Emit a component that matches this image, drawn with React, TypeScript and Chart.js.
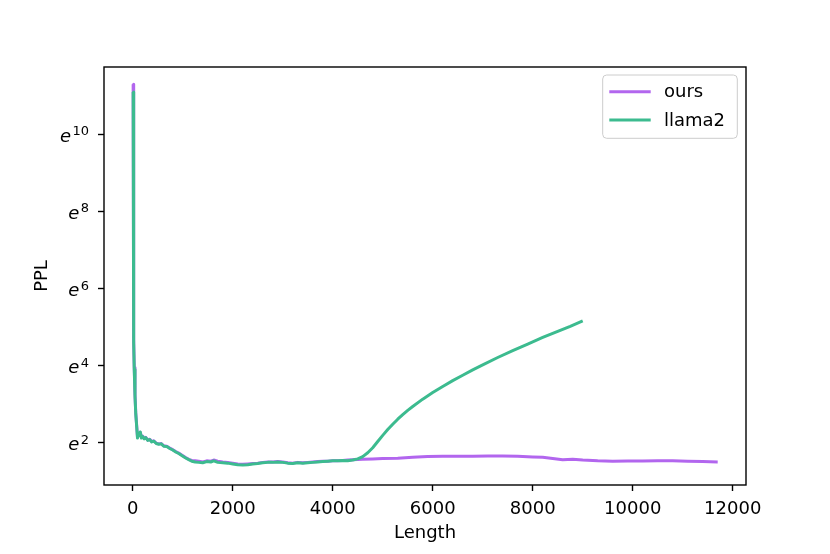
import { useEffect, useRef } from 'react';
import { Chart, registerables } from 'chart.js';

Chart.register(...registerables);

// Length (tokens) and ln(PPL)
const oursLength = [8, 15, 22, 30, 45, 60, 80, 95, 110, 130, 150, 175, 200, 230, 260, 300, 340, 380, 420, 470, 520, 570, 620, 680, 740, 800, 860, 920, 980, 1050, 1120, 1180, 1250, 1320, 1400, 1480, 1560, 1620, 1700, 1800, 1900, 2000, 2100, 2200, 2300, 2400, 2500, 2600, 2700, 2800, 2900, 3000, 3100, 3200, 3300, 3400, 3500, 3600, 3700, 3800, 3900, 4000, 4100, 4200, 4300, 4400, 4600, 4800, 5000, 5300, 5600, 5900, 6200, 6500, 6800, 7100, 7400, 7700, 8000, 8200, 8400, 8600, 8800, 9000, 9300, 9600, 9900, 10200, 10500, 10800, 11100, 11400, 11700];
const oursLogPPL = [11.3, 6.3, 4.7, 3.95, 3.25, 2.78, 2.42, 2.14, 2.24, 2.2, 2.27, 2.14, 2.17, 2.11, 2.14, 2.07, 2.09, 2.03, 2.05, 1.99, 1.97, 1.98, 1.92, 1.91, 1.86, 1.82, 1.77, 1.73, 1.68, 1.62, 1.57, 1.54, 1.53, 1.52, 1.5, 1.53, 1.52, 1.55, 1.52, 1.5, 1.49, 1.47, 1.45, 1.44, 1.45, 1.46, 1.47, 1.49, 1.5, 1.5, 1.51, 1.5, 1.48, 1.47, 1.49, 1.48, 1.49, 1.5, 1.51, 1.52, 1.52, 1.53, 1.535, 1.54, 1.55, 1.555, 1.57, 1.58, 1.59, 1.6, 1.62, 1.64, 1.65, 1.65, 1.65, 1.655, 1.655, 1.65, 1.63, 1.62, 1.59, 1.56, 1.57, 1.55, 1.53, 1.52, 1.525, 1.525, 1.53, 1.53, 1.52, 1.51, 1.5];

const llamaLength = [8, 15, 22, 30, 45, 60, 80, 95, 110, 130, 150, 175, 200, 230, 260, 300, 340, 380, 420, 470, 520, 570, 620, 680, 740, 800, 860, 920, 980, 1050, 1120, 1180, 1250, 1320, 1400, 1480, 1560, 1620, 1700, 1800, 1900, 2000, 2100, 2200, 2300, 2400, 2500, 2600, 2700, 2800, 2900, 3000, 3100, 3200, 3300, 3400, 3500, 3600, 3700, 3800, 3900, 4000, 4100, 4200, 4300, 4400, 4500, 4600, 4700, 4800, 4900, 5000, 5100, 5200, 5300, 5400, 5500, 5600, 5800, 6000, 6200, 6400, 6600, 6800, 7000, 7300, 7600, 7900, 8200, 8500, 8750, 9000];
const llamaLogPPL = [11.1, 6.2, 4.6, 3.9, 3.2, 2.75, 2.4, 2.12, 2.25, 2.18, 2.28, 2.12, 2.16, 2.1, 2.13, 2.06, 2.08, 2.02, 2.04, 1.98, 1.96, 1.97, 1.91, 1.9, 1.85, 1.81, 1.76, 1.72, 1.67, 1.61, 1.56, 1.52, 1.5, 1.49, 1.48, 1.51, 1.5, 1.53, 1.49, 1.48, 1.47, 1.45, 1.43, 1.42, 1.43, 1.45, 1.46, 1.48, 1.49, 1.49, 1.5, 1.49, 1.47, 1.46, 1.48, 1.47, 1.48, 1.49, 1.5, 1.51, 1.52, 1.53, 1.535, 1.54, 1.53, 1.55, 1.58, 1.64, 1.74, 1.87, 2.03, 2.19, 2.34, 2.48, 2.61, 2.73, 2.84, 2.94, 3.13, 3.3, 3.46, 3.61, 3.75, 3.89, 4.02, 4.21, 4.39, 4.56, 4.73, 4.89, 5.02, 5.16];

const xTicks = [0, 2000, 4000, 6000, 8000, 10000, 12000];
const yTickExps = [2, 4, 6, 8, 10];
const seriesNames = ['ours', 'llama2'];
const seriesColors = ['#b266ee', '#3cbb8f'];
const xTitle = 'Length';
const yTitle = 'PPL';

const FONT = "'DejaVu Sans', sans-serif";

export default function App() {
  const ref = useRef<HTMLCanvasElement>(null);

  useEffect(() => {
    const canvas = ref.current;
    if (!canvas) return;

    const overlay = {
      id: 'overlay',
      afterDraw(chart: any) {
        const c = chart.ctx as CanvasRenderingContext2D;
        const a = chart.chartArea;
        const ys = chart.scales.y;
        c.save();
        // frame
        c.strokeStyle = '#000';
        c.lineWidth = 1.4;
        c.strokeRect(a.left, a.top, a.right - a.left, a.bottom - a.top);

        // y tick labels e^n
        c.fillStyle = '#000';
        c.textAlign = 'left';
        c.textBaseline = 'alphabetic';
        for (const e of yTickExps) {
          const py = ys.getPixelForValue(e);
          const sup = String(e);
          c.font = `13px ${FONT}`;
          const sw = c.measureText(sup).width;
          c.font = `italic 18px ${FONT}`;
          const ew = c.measureText('e').width;
          const right = a.left - 15;
          c.fillText('e', right - sw - 1.5 - ew, py + 7.4);
          c.font = `13px ${FONT}`;
          c.fillText(sup, right - sw, py + 1);
        }

        // axis titles
        c.font = `18px ${FONT}`;
        c.textAlign = 'center';
        c.fillText(xTitle, (a.left + a.right) / 2, 538);
        c.save();
        c.translate(46.5, (a.top + a.bottom) / 2);
        c.rotate(-Math.PI / 2);
        c.fillText(yTitle, 0, 0);
        c.restore();

        // legend
        const lw = 134.6, lh = 63.3;
        const lx = a.right - 8.7 - lw, ly = a.top + 8;
        c.beginPath();
        (c as any).roundRect(lx, ly, lw, lh, 4);
        c.fillStyle = 'rgba(255,255,255,0.8)';
        c.fill();
        c.strokeStyle = '#cccccc';
        c.lineWidth = 1;
        c.stroke();
        c.textAlign = 'left';
        c.font = `18px ${FONT}`;
        seriesNames.forEach((name, i) => {
          const y = ly + 16.7 + i * 28.3;
          c.strokeStyle = seriesColors[i];
          c.lineWidth = 3;
          c.beginPath();
          c.moveTo(lx + 6.6, y);
          c.lineTo(lx + 48, y);
          c.stroke();
          c.fillStyle = '#000';
          c.fillText(name, lx + 61.3, y + 5.5);
        });
        c.restore();
      },
    };

    const tickGrid = {
      drawOnChartArea: false,
      drawTicks: true,
      tickLength: 6,
      tickWidth: 1.4,
      tickColor: '#000',
    };

    const chart = new Chart(canvas, {
      type: 'line',
      data: {
        datasets: [
          {
            label: seriesNames[0],
            data: oursLength.map((x, i) => ({ x, y: oursLogPPL[i] })),
            borderColor: seriesColors[0],
            backgroundColor: seriesColors[0],
            order: 1,
          },
          {
            label: seriesNames[1],
            data: llamaLength.map((x, i) => ({ x, y: llamaLogPPL[i] })),
            borderColor: seriesColors[1],
            backgroundColor: seriesColors[1],
            order: 0,
          },
        ],
      },
      options: {
        responsive: false,
        animation: false,
        devicePixelRatio: 1,
        layout: { padding: { left: 0, right: 84, top: 67, bottom: 0 } },
        plugins: { legend: { display: false }, tooltip: { enabled: false } },
        elements: {
          point: { radius: 0 },
          line: { tension: 0, borderWidth: 3, borderJoinStyle: 'round', borderCapStyle: 'butt', fill: false },
        },
        scales: {
          x: {
            type: 'linear',
            min: -575,
            max: 12266,
            afterFit(s: any) { s.height = 69; },
            afterBuildTicks(s: any) { s.ticks = xTicks.map((v) => ({ value: v })); },
            ticks: {
              font: { family: FONT, size: 18 },
              color: '#000',
              padding: 8,
              maxRotation: 0,
              autoSkip: false,
              callback: (v: any) => String(v),
            },
            grid: tickGrid,
            border: { display: false },
          },
          y: {
            type: 'linear',
            min: 0.903,
            max: 11.746,
            afterFit(s: any) { s.width = 104; },
            afterBuildTicks(s: any) { s.ticks = yTickExps.map((v) => ({ value: v })); },
            ticks: { callback: () => '', padding: 0 },
            grid: tickGrid,
            border: { display: false },
          },
        },
      } as any,
      plugins: [overlay],
    });

    return () => chart.destroy();
  }, []);

  return (
    <div style={{ position: 'absolute', left: 0, top: 0, width: 830, height: 554, background: '#fff' }}>
      <canvas ref={ref} width={830} height={554} style={{ display: 'block', width: 830, height: 554 }} />
    </div>
  );
}
